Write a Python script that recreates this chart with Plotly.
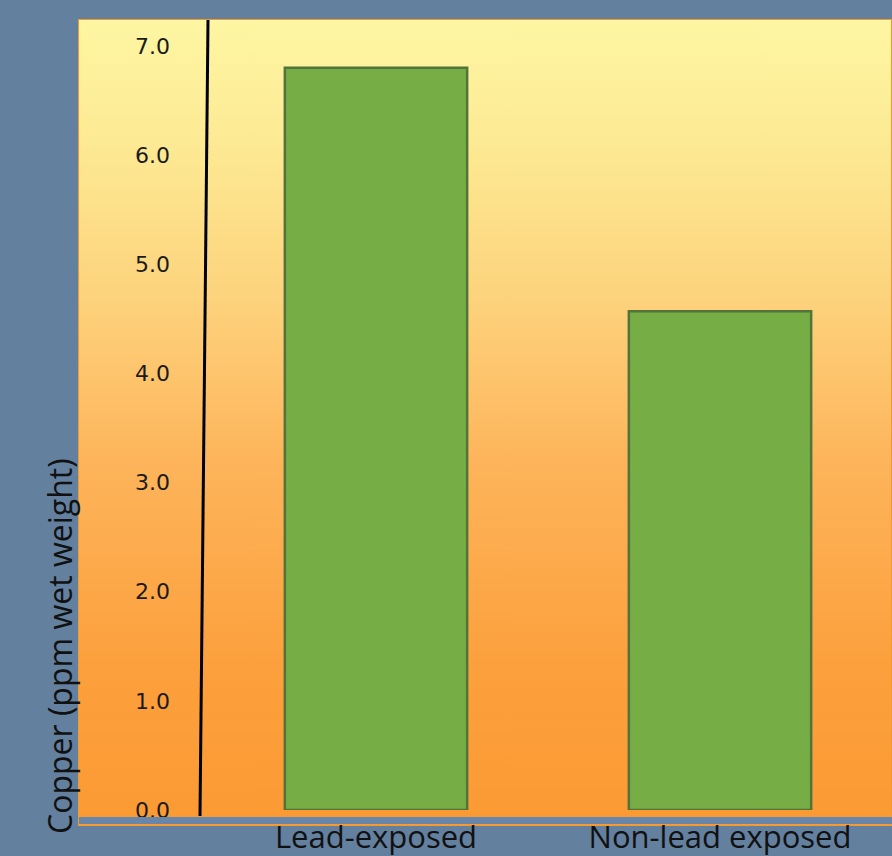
import plotly.graph_objects as go

categories = ["Lead-exposed", "Non-lead exposed"]
copper_ppm = [6.80, 4.57]
y_tick_values = [0, 1, 2, 3, 4, 5, 6, 7]
y_tick_labels = ["0.0", "1.0", "2.0", "3.0", "4.0", "5.0", "6.0", "7.0"]

W, H = 892, 856
def px_x(p): return p / W
def px_y(p): return 1 - p / H

fig = go.Figure()

# gradient background panel (on its own hidden axes)
fig.add_trace(go.Scatter(
    x=[0, 1, 1, 0, 0], y=[0, 0, 1, 1, 0],
    mode="lines", fill="toself",
    line=dict(color="#f39a2c", width=2),
    fillgradient=dict(type="vertical", start=0, stop=1,
                      colorscale=[[0, "#fb9a33"], [0.2, "#fca03d"], [0.45, "#fdb45a"],
                                  [0.65, "#fdd27c"], [0.85, "#fdea94"], [1, "#fef6a3"]]),
    hoverinfo="skip", showlegend=False, xaxis="x", yaxis="y"))

fig.add_trace(go.Bar(
    x=categories, y=copper_ppm, width=0.53,
    marker=dict(color="#76ad45", line=dict(color="#52733a", width=2.5)),
    showlegend=False, xaxis="x2", yaxis="y2"))

fig.update_layout(
    width=W, height=H,
    margin=dict(l=0, r=0, t=0, b=0, autoexpand=False),
    paper_bgcolor="#63809f",
    plot_bgcolor="rgba(0,0,0,0)",
    xaxis=dict(domain=[px_x(78), 1], range=[0, 1], visible=False, fixedrange=True,
               automargin=False),
    yaxis=dict(domain=[px_y(826), px_y(19)], range=[0, 1], visible=False, fixedrange=True,
               automargin=False),
    xaxis2=dict(domain=[px_x(204), 1], range=[-0.5, 1.5], anchor="y2",
                showgrid=False, zeroline=False, showline=False, ticks="",
                tickfont=dict(family="Open Sans", size=31, color="#111111"),
                ticklabelstandoff=6, automargin=False),
    yaxis2=dict(domain=[px_y(810), px_y(19)], range=[0, 7.247], anchor="x2",
                tickvals=y_tick_values, ticktext=y_tick_labels,
                showgrid=False, zeroline=False, showline=False, ticks="",
                tickfont=dict(family="DejaVu Sans", size=22, color="#1a1a1a"),
                ticklabelstandoff=33, automargin=False),
    shapes=[
        dict(type="rect", xref="paper", yref="paper",
             x0=px_x(79), x1=1, y0=px_y(824), y1=px_y(817),
             fillcolor="#6786aa", line=dict(width=0), layer="above"),
        dict(type="line", xref="paper", yref="paper",
             x0=px_x(208), y0=px_y(20), x1=px_x(200), y1=px_y(816),
             line=dict(color="black", width=3), layer="above"),
    ],
    annotations=[
        dict(text="Copper (ppm wet weight)", xref="paper", yref="paper",
             x=px_x(59), y=px_y(646), textangle=-90, showarrow=False,
             font=dict(family="Open Sans", size=32, color="#111111"),
             xanchor="center", yanchor="middle"),
    ],
)

fig.write_html("out.html")
